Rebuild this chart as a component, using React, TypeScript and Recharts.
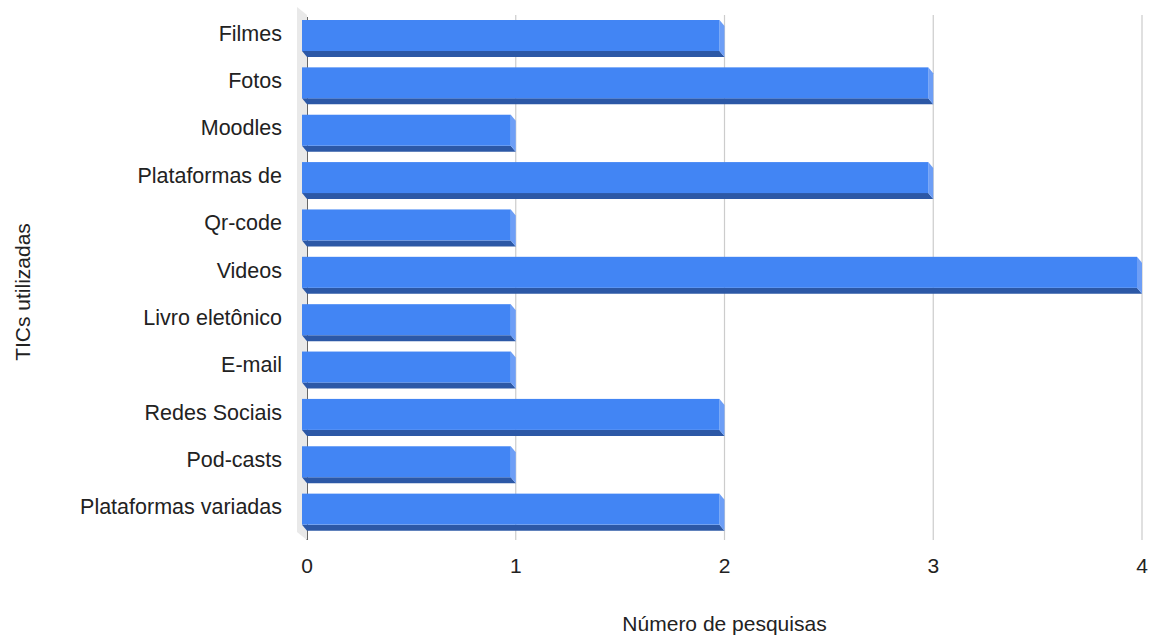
import { BarChart, Bar, XAxis, YAxis, CartesianGrid, ReferenceArea } from 'recharts'

const categories = [
  'Filmes',
  'Fotos',
  'Moodles',
  'Plataformas de',
  'Qr-code',
  'Videos',
  'Livro eletônico',
  'E-mail',
  'Redes Sociais',
  'Pod-casts',
  'Plataformas variadas',
]
const counts = [2, 3, 1, 3, 1, 4, 1, 1, 2, 1, 2]
const xTicks = [0, 1, 2, 3, 4]

const data = categories.map((name, i) => ({ name, value: counts[i] }))

const DX = 5
const DY = 6
const FONT = '"Liberation Sans", Arial, sans-serif'

// fake 3D bar: front face shifted left, side + bottom faces for depth
function Bar3D(props: any) {
  const { x, y, width, height } = props
  if (width == null || height == null) return null
  const fx = x - DX
  const fh = height - DY
  const r = fx + width
  return (
    <g>
      <polygon points={`${fx},${y + fh} ${r},${y + fh} ${r + DX},${y + height} ${fx + DX},${y + height}`} fill="#2c58a6" />
      <polygon points={`${r},${y} ${r + DX},${y + DY} ${r + DX},${y + height} ${r},${y + fh}`} fill="#6d9ef6" />
      <rect x={fx} y={y} width={width} height={fh} fill="#4285f4" />
    </g>
  )
}

function GridLine(props: any) {
  const { x1, y1, x2, y2, index } = props
  const first = index === 0
  return (
    <line
      key={`g-${index}`}
      x1={x1}
      x2={x2}
      y1={y1 + (first ? 2 : 0)}
      y2={y2 + 4}
      stroke={first ? '#333333' : '#cccccc'}
      strokeWidth={first ? 1.5 : 1.2}
    />
  )
}

function Wall(props: any) {
  const { x, y, height } = props
  const b = y + height
  return (
    <polygon
      points={`${x - 10},${y - 8} ${x},${y} ${x},${b + 4} ${x - 10},${b - 4}`}
      fill="#e9e9e9"
    />
  )
}

function CatTick(props: any) {
  const { x, y, payload } = props
  return (
    <text x={x} y={y - 5} textAnchor="end" dominantBaseline="central" fill="#222" fontSize={21.5} fontFamily={FONT}>
      {payload.value}
    </text>
  )
}

function YTitle() {
  return (
    <text
      x={22}
      y={292}
      transform="rotate(-90 22 292)"
      textAnchor="middle"
      dominantBaseline="central"
      fill="#222"
      fontSize={21}
      fontFamily={FONT}
    >
      TICs utilizadas
    </text>
  )
}

export default function App() {
  return (
    <div style={{ position: 'absolute', left: 0, top: 0, background: '#fff' }}>
      <BarChart
        width={1155}
        height={639}
        data={data}
        layout="vertical"
        margin={{ top: 15, right: 13, left: 0, bottom: 0 }}
        barCategoryGap={10}
      >
        <ReferenceArea x1={0} x2={4} shape={<Wall />} ifOverflow="visible" />
        <CartesianGrid horizontal={false} vertical={<GridLine />} />
        <XAxis
          type="number"
          domain={[0, 4]}
          ticks={xTicks}
          axisLine={false}
          tickLine={false}
          tickSize={0}
          tickMargin={22}
          height={103}
          tick={{ fill: '#222', fontSize: 21, fontFamily: FONT }}
          label={{
            value: 'Número de pesquisas',
            position: 'insideBottom',
            offset: 8,
            fill: '#222',
            fontSize: 21,
            fontFamily: FONT,
          }}
        />
        <YAxis
          type="category"
          dataKey="name"
          width={307}
          axisLine={false}
          tickLine={false}
          tickSize={0}
          tickMargin={25}
          interval={0}
          tick={<CatTick />}
          label={{ content: <YTitle /> }}
        />
        <Bar dataKey="value" barSize={37} shape={<Bar3D />} isAnimationActive={false} />
      </BarChart>
    </div>
  )
}
